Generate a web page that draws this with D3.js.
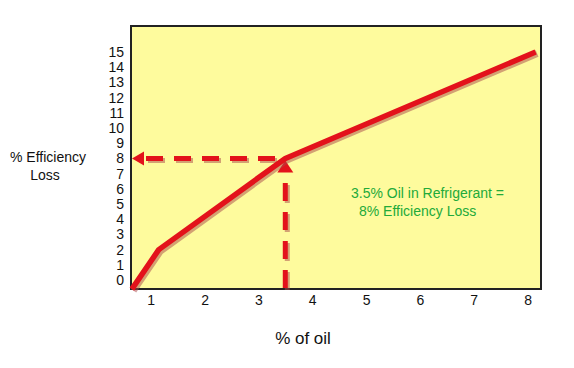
<!DOCTYPE html>
<html>
<head>
<meta charset="utf-8">
<script src="https://cdn.jsdelivr.net/npm/d3@7"></script>
<style>
  body { margin: 0; background: #fff; }
  text { font-family: "Liberation Sans", Arial, sans-serif; }
</style>
</head>
<body>
<div id="chart"></div>
<script>
// data
const oilPct = [0.65, 1.15, 3.5, 8.15];
const lossPct = [-0.6, 2, 8, 15];
const xTicks = [1, 2, 3, 4, 5, 6, 7, 8];
const yTicks = [0, 1, 2, 3, 4, 5, 6, 7, 8, 9, 10, 11, 12, 13, 14, 15];
const markX = 3.5;
const markY = 8;

const width = 574;
const height = 368;
const margin = { top: 26, right: 33, bottom: 79, left: 131 };

const svg = d3.select("#chart").append("svg")
  .attr("width", width)
  .attr("height", height);

const x = d3.scaleLinear()
  .domain([0.634, 8.25])
  .range([margin.left, width - margin.right]);

const y = d3.scaleLinear()
  .domain([-0.59, 16.71])
  .range([height - margin.bottom, margin.top]);

// plot box
svg.append("rect")
  .attr("x", margin.left)
  .attr("y", margin.top)
  .attr("width", width - margin.left - margin.right)
  .attr("height", height - margin.top - margin.bottom)
  .attr("fill", "#fefb9d")
  .attr("stroke", "#222")
  .attr("stroke-width", 2);

// axis labels (no tick lines)
const xAxis = g => g
  .attr("transform", `translate(0,${height - margin.bottom})`)
  .call(d3.axisBottom(x).tickValues(xTicks).tickSize(0).tickPadding(6))
  .call(g => g.select(".domain").remove())
  .call(g => g.selectAll("text").attr("font-size", 14).attr("fill", "#111")
    .attr("font-family", "Liberation Sans, Arial, sans-serif"));
svg.append("g").call(xAxis);

const yAxis = g => g
  .attr("transform", `translate(${margin.left - 4},0)`)
  .call(d3.axisLeft(y).tickValues(yTicks).tickSize(0).tickPadding(3))
  .call(g => g.select(".domain").remove())
  .call(g => g.selectAll("text").attr("font-size", 14).attr("fill", "#111")
    .attr("font-family", "Liberation Sans, Arial, sans-serif"));
svg.append("g").call(yAxis);

const red = "#e3121b";
const shadow = "#a8484a";

// dashed guide lines
const guides = svg.append("g");
const hx0 = x.invert(margin.left + 11);
[[2, 2, shadow, 0.5], [0, 0, red, 1]].forEach(([dx, dy, c, o]) => {
  guides.append("line")
    .attr("x1", x(hx0) + dx).attr("y1", y(markY) + dy)
    .attr("x2", x(markX) + dx).attr("y2", y(markY) + dy)
    .attr("stroke", c).attr("stroke-opacity", o)
    .attr("stroke-width", 5)
    .attr("stroke-dasharray", "17,11")
    .attr("stroke-dashoffset", -4);
  guides.append("line")
    .attr("x1", x(markX) + dx).attr("y1", y(y.domain()[0]) + dy - 1)
    .attr("x2", x(markX) + dx).attr("y2", y(markY) + 14 + dy)
    .attr("stroke", c).attr("stroke-opacity", o)
    .attr("stroke-width", 5)
    .attr("stroke-dasharray", "18,11");
});

// arrowheads
guides.append("path")
  .attr("d", d3.line()([
    [x(hx0) - 10, y(markY)], [x(hx0) + 2, y(markY) - 7], [x(hx0) + 2, y(markY) + 7]
  ]) + "Z")
  .attr("fill", red);
guides.append("path")
  .attr("d", d3.line()([
    [x(markX), y(markY) + 2], [x(markX) - 8, y(markY) + 14], [x(markX) + 8, y(markY) + 14]
  ]) + "Z")
  .attr("fill", red);

// main curve
const pts = oilPct.map((d, i) => [x(d), y(lossPct[i])]);
const line = d3.line();
svg.append("path")
  .attr("d", line(pts.map(p => [p[0] + 1.5, p[1] + 1.5])))
  .attr("fill", "none")
  .attr("stroke", shadow)
  .attr("stroke-opacity", 0.5)
  .attr("stroke-width", 7)
  .attr("stroke-linejoin", "round");
svg.append("path")
  .attr("d", line(pts))
  .attr("fill", "none")
  .attr("stroke", red)
  .attr("stroke-width", 5.5)
  .attr("stroke-linejoin", "round")
  .attr("stroke-linecap", "butt");

// annotation
const note = svg.append("text")
  .attr("fill", "#22aa3a")
  .attr("font-size", 14);
note.append("tspan").attr("x", 351).attr("y", 198).text("3.5% Oil in Refrigerant =");
note.append("tspan").attr("x", 359).attr("y", 216).text("8% Efficiency Loss");

// axis titles
svg.append("text")
  .attr("x", 303).attr("y", 344)
  .attr("text-anchor", "middle")
  .attr("font-size", 17)
  .attr("fill", "#111")
  .text("% of oil");

const yTitle = svg.append("text")
  .attr("font-size", 14)
  .attr("fill", "#111")
  .attr("text-anchor", "middle");
yTitle.append("tspan").attr("x", 48).attr("y", 162).text("% Efficiency");
yTitle.append("tspan").attr("x", 45).attr("y", 180).text("Loss");
</script>
</body>
</html>
